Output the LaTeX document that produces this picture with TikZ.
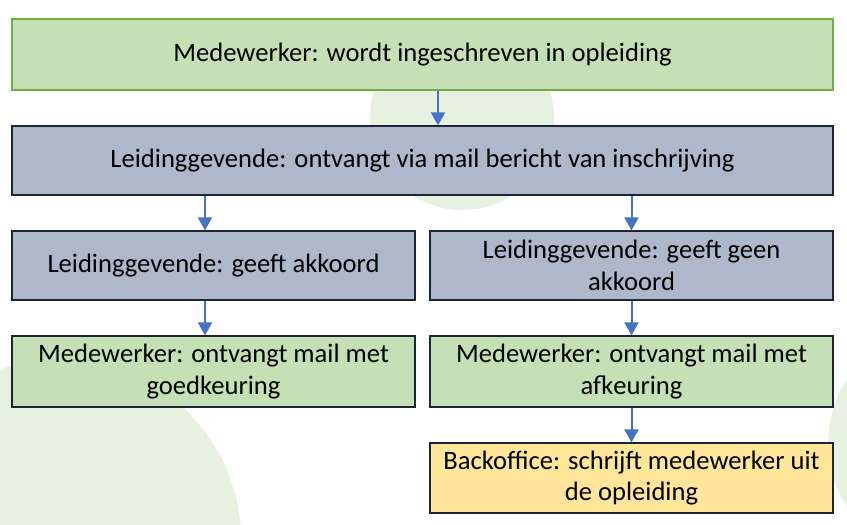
\documentclass[tikz,border=0pt]{standalone}
\usepackage{fontspec}
\setmainfont{Carlito}
\usetikzlibrary{arrows.meta}
\definecolor{bgc}{HTML}{E6F1DF}
\definecolor{grn}{HTML}{C5E0B4}
\definecolor{grnb}{HTML}{70AD47}
\definecolor{gry}{HTML}{ADB9CA}
\definecolor{ylw}{HTML}{FFE699}
\definecolor{nav}{HTML}{1B2438}
\definecolor{arrc}{HTML}{4472C4}
\tikzset{
  box/.style={draw=nav, line width=1.2pt, rectangle, align=center, inner sep=2pt,
    font=\fontsize{26.6}{31.5}\selectfont, text=black},
  arr/.style={draw=arrc, line width=2pt, -{Triangle[length=13pt,width=14pt]}}
}
\begin{document}
\begin{tikzpicture}[x=1pt,y=-1pt]
\useasboundingbox (0,0) rectangle (847,525);
\fill[bgc] (462,118) circle (92);
\fill[bgc] (60,540) circle (181);
\fill[bgc] (944,443) circle (116);
\node[box, draw=grnb, fill=grn, minimum width=821pt, minimum height=71pt] (b1) at (422.5,54.5) {Medewerker: wordt ingeschreven in opleiding};
\node[box, fill=gry, minimum width=821pt, minimum height=69pt] (b2) at (422.5,160.5) {Leidinggevende: ontvangt via mail bericht van inschrijving};
\node[box, fill=gry, minimum width=403pt, minimum height=69pt] (b3) at (213.5,265.5) {Leidinggevende: geeft akkoord};
\node[box, fill=gry, minimum width=403pt, minimum height=69pt] (b4) at (631.5,265.5) {Leidinggevende: geeft geen\\akkoord};
\node[box, fill=grn, minimum width=403pt, minimum height=71pt] (b5) at (213.5,371.5) {Medewerker: ontvangt mail met\\goedkeuring};
\node[box, fill=grn, minimum width=403pt, minimum height=71pt] (b6) at (631.5,371.5) {Medewerker: ontvangt mail met\\afkeuring};
\node[box, fill=ylw, minimum width=403pt, minimum height=70pt] (b7) at (631.5,478) {Backoffice: schrijft medewerker uit\\de opleiding};
\draw[arr] ([xshift=15.5pt]b1.south) -- ([xshift=15.5pt]b2.north);
\draw[arr] ([xshift=-217.5pt]b2.south) -- ([xshift=-8.5pt]b3.north);
\draw[arr] ([xshift=209pt]b2.south) -- (b4.north);
\draw[arr] ([xshift=-8.5pt]b3.south) -- ([xshift=-8.5pt]b5.north);
\draw[arr] (b4.south) -- (b6.north);
\draw[arr] (b6.south) -- (b7.north);
\end{tikzpicture}
\end{document}
